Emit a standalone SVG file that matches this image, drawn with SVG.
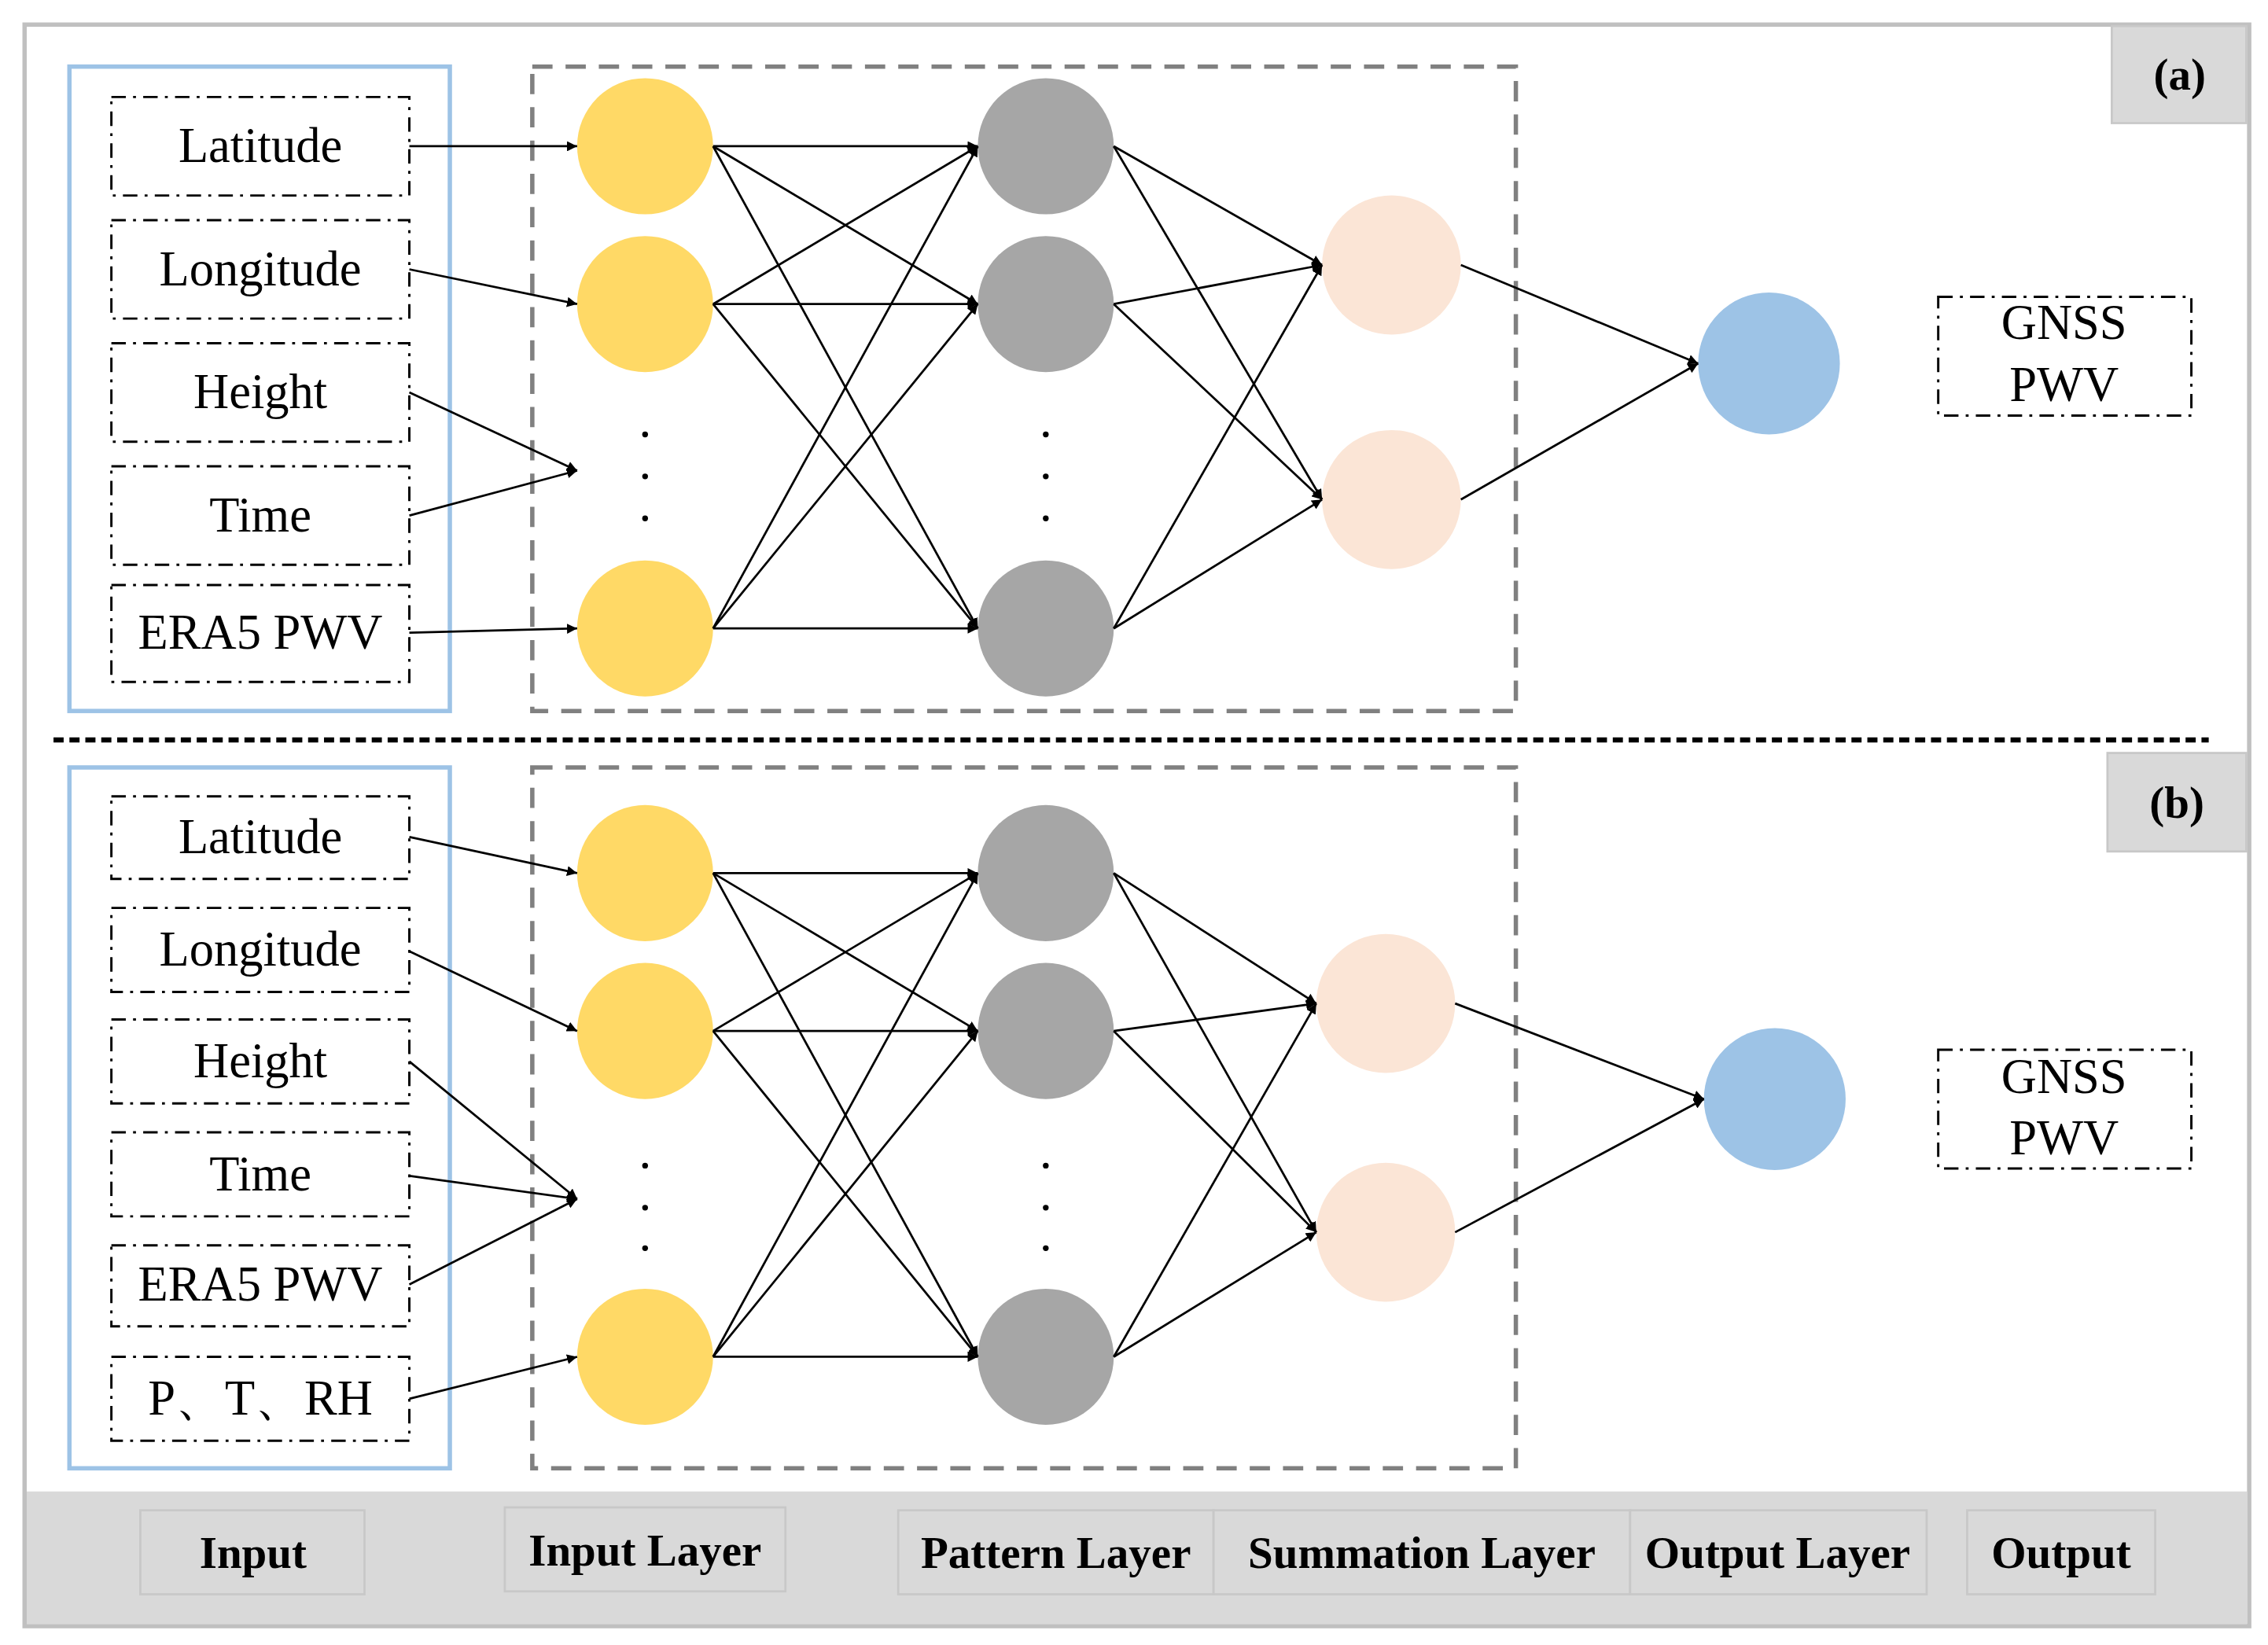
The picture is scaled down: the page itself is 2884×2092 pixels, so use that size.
<svg xmlns="http://www.w3.org/2000/svg" width="2884" height="2092" viewBox="0 0 2884 2092">
<style>
.t{font-family:"Liberation Serif","Times New Roman",serif;font-size:34px;text-anchor:middle;fill:#000}
.b{font-family:"Liberation Serif","Times New Roman",serif;font-size:31px;font-weight:bold;text-anchor:middle;fill:#000}
.ib{fill:#fff;stroke:#000;stroke-width:1.6;stroke-dasharray:10 5 2 5}
.blue{fill:none;stroke:#9dc3e6;stroke-width:3}
.dash{fill:none;stroke:#808080;stroke-width:3;stroke-dasharray:14 9}
.y{fill:#ffd966}.g{fill:#a6a6a6}.p{fill:#fbe5d6}.o{fill:#9dc3e6}
.c line{stroke:#000;stroke-width:1.5;marker-end:url(#ah)}
.lb{fill:#d9d9d9;stroke:#c8c8c8;stroke-width:1.5}
</style>
<defs><marker id="ah" viewBox="0 0 10 10" refX="10" refY="5" markerWidth="7" markerHeight="7" orient="auto" markerUnits="userSpaceOnUse"><path d="M0,0L10,5L0,10z" fill="#000"/></marker></defs>
<rect width="2884" height="2092" fill="#fff"/>
<g transform="scale(1.8393,1.8415)">
<rect x="17" y="17" width="1538" height="1106" fill="#fff" stroke="#c0c0c0" stroke-width="3"/>
<rect x="18.5" y="1030" width="1535" height="91.5" fill="#d9d9d9"/>
<g id="label-a"><rect x="1460" y="18" width="93" height="67" class="lb"/><text x="1507" y="62" class="b">(a)</text></g>
<g id="label-b"><rect x="1457" y="520" width="96" height="68" class="lb"/><text x="1505" y="565" class="b">(b)</text></g>
<line x1="37" y1="511" x2="1527" y2="511" stroke="#000" stroke-width="3.5" stroke-dasharray="7 4"/>
<rect x="48" y="46" width="263" height="445" class="blue"/>
<rect x="48" y="530" width="263" height="484" class="blue"/>
<rect x="368" y="46" width="680" height="445" class="dash"/>
<rect x="368" y="530" width="680" height="484" class="dash"/>
<g id="a-in-lat"><rect x="77" y="67" width="206" height="68" class="ib"/><text x="180" y="112" class="t">Latitude</text></g>
<g id="a-in-lon"><rect x="77" y="152" width="206" height="68" class="ib"/><text x="180" y="197" class="t">Longitude</text></g>
<g id="a-in-h"><rect x="77" y="237" width="206" height="68" class="ib"/><text x="180" y="282" class="t">Height</text></g>
<g id="a-in-t"><rect x="77" y="322" width="206" height="68" class="ib"/><text x="180" y="367" class="t">Time</text></g>
<g id="a-in-e"><rect x="77" y="404" width="206" height="67" class="ib"/><text x="180" y="448" class="t">ERA5 PWV</text></g>
<g id="b-in-lat"><rect x="77" y="550" width="206" height="57" class="ib"/><text x="180" y="589" class="t">Latitude</text></g>
<g id="b-in-lon"><rect x="77" y="627" width="206" height="58" class="ib"/><text x="180" y="667" class="t">Longitude</text></g>
<g id="b-in-h"><rect x="77" y="704" width="206" height="58" class="ib"/><text x="180" y="744" class="t">Height</text></g>
<g id="b-in-t"><rect x="77" y="782" width="206" height="58" class="ib"/><text x="180" y="822" class="t">Time</text></g>
<g id="b-in-e"><rect x="77" y="860" width="206" height="56" class="ib"/><text x="180" y="898" class="t">ERA5 PWV</text></g>
<g id="b-in-p"><rect x="77" y="937" width="206" height="58" class="ib"/><text x="180" y="977" class="t">P、T、RH</text></g>
<g id="a-nodes">
<circle cx="446" cy="101" r="47" class="y"/><circle cx="446" cy="210" r="47" class="y"/><circle cx="446" cy="434" r="47" class="y"/>
<circle cx="723" cy="101" r="47" class="g"/><circle cx="723" cy="210" r="47" class="g"/><circle cx="723" cy="434" r="47" class="g"/>
<circle cx="962" cy="183" r="48" class="p"/><circle cx="962" cy="345" r="48" class="p"/>
<circle cx="1223" cy="251" r="49" class="o"/>
<g fill="#000"><circle cx="446" cy="300" r="2"/><circle cx="446" cy="329" r="2"/><circle cx="446" cy="358" r="2"/><circle cx="723" cy="300" r="2"/><circle cx="723" cy="329" r="2"/><circle cx="723" cy="358" r="2"/></g>
</g>
<g id="b-nodes">
<circle cx="446" cy="603" r="47" class="y"/><circle cx="446" cy="712" r="47" class="y"/><circle cx="446" cy="937" r="47" class="y"/>
<circle cx="723" cy="603" r="47" class="g"/><circle cx="723" cy="712" r="47" class="g"/><circle cx="723" cy="937" r="47" class="g"/>
<circle cx="958" cy="693" r="48" class="p"/><circle cx="958" cy="851" r="48" class="p"/>
<circle cx="1227" cy="759" r="49" class="o"/>
<g fill="#000"><circle cx="446" cy="805" r="2"/><circle cx="446" cy="834" r="2"/><circle cx="446" cy="862" r="2"/><circle cx="723" cy="805" r="2"/><circle cx="723" cy="834" r="2"/><circle cx="723" cy="862" r="2"/></g>
</g>
<g id="a-out"><rect x="1340" y="205" width="175" height="82" class="ib"/><text x="1427" y="234" class="t">GNSS</text><text x="1427" y="277" class="t">PWV</text></g>
<g id="b-out"><rect x="1340" y="725" width="175" height="82" class="ib"/><text x="1427" y="755" class="t">GNSS</text><text x="1427" y="797" class="t">PWV</text></g>
<g id="connectors" class="c">
<line x1="283" y1="101" x2="399" y2="101"/><line x1="283" y1="186" x2="399" y2="210"/><line x1="283" y1="271" x2="399" y2="325"/><line x1="283" y1="356" x2="399" y2="325"/><line x1="283" y1="437" x2="399" y2="434"/>
<line x1="493" y1="101" x2="676" y2="101"/><line x1="493" y1="101" x2="676" y2="210"/><line x1="493" y1="101" x2="676" y2="434"/>
<line x1="493" y1="210" x2="676" y2="101"/><line x1="493" y1="210" x2="676" y2="210"/><line x1="493" y1="210" x2="676" y2="434"/>
<line x1="493" y1="434" x2="676" y2="101"/><line x1="493" y1="434" x2="676" y2="210"/><line x1="493" y1="434" x2="676" y2="434"/>
<line x1="770" y1="101" x2="914" y2="183"/><line x1="770" y1="101" x2="914" y2="345"/><line x1="770" y1="210" x2="914" y2="183"/><line x1="770" y1="210" x2="914" y2="345"/><line x1="770" y1="434" x2="914" y2="183"/><line x1="770" y1="434" x2="914" y2="345"/>
<line x1="1010" y1="183" x2="1174" y2="251"/><line x1="1010" y1="345" x2="1174" y2="251"/>
<line x1="283" y1="578" x2="399" y2="603"/><line x1="283" y1="657" x2="399" y2="712"/><line x1="283" y1="733" x2="399" y2="828"/><line x1="283" y1="812" x2="399" y2="828"/><line x1="283" y1="887" x2="399" y2="828"/><line x1="283" y1="966" x2="399" y2="937"/>
<line x1="493" y1="603" x2="676" y2="603"/><line x1="493" y1="603" x2="676" y2="712"/><line x1="493" y1="603" x2="676" y2="937"/>
<line x1="493" y1="712" x2="676" y2="603"/><line x1="493" y1="712" x2="676" y2="712"/><line x1="493" y1="712" x2="676" y2="937"/>
<line x1="493" y1="937" x2="676" y2="603"/><line x1="493" y1="937" x2="676" y2="712"/><line x1="493" y1="937" x2="676" y2="937"/>
<line x1="770" y1="603" x2="910" y2="693"/><line x1="770" y1="603" x2="910" y2="851"/><line x1="770" y1="712" x2="910" y2="693"/><line x1="770" y1="712" x2="910" y2="851"/><line x1="770" y1="937" x2="910" y2="693"/><line x1="770" y1="937" x2="910" y2="851"/>
<line x1="1006" y1="693" x2="1178" y2="759"/><line x1="1006" y1="851" x2="1178" y2="759"/>
</g>
<g id="legend">
<rect x="97" y="1043" width="155" height="58" class="lb"/><text x="175" y="1083" class="b">Input</text>
<rect x="349" y="1041" width="194" height="58" class="lb"/><text x="446" y="1081" class="b">Input Layer</text>
<rect x="621" y="1043" width="218" height="58" class="lb"/><text x="730" y="1083" class="b">Pattern Layer</text>
<rect x="839" y="1043" width="288" height="58" class="lb"/><text x="983" y="1083" class="b">Summation Layer</text>
<rect x="1127" y="1043" width="205" height="58" class="lb"/><text x="1229" y="1083" class="b">Output Layer</text>
<rect x="1360" y="1043" width="130" height="58" class="lb"/><text x="1425" y="1083" class="b">Output</text>
</g>
</g>
</svg>
